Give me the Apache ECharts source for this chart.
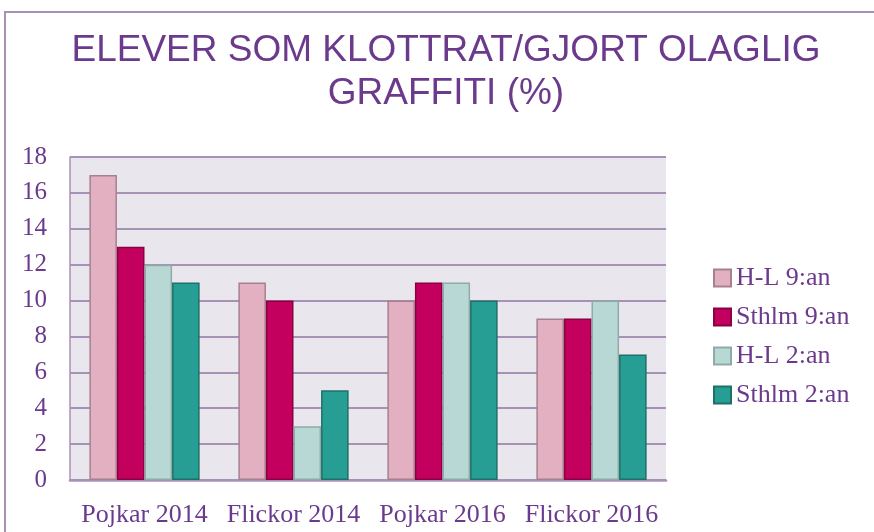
<!DOCTYPE html>
<html>
<head>
<meta charset="utf-8">
<script src="https://cdn.jsdelivr.net/npm/echarts@6/dist/echarts.min.js"></script>
<style>
  html, body { margin: 0; padding: 0; background: #fff; }
  #main { width: 874px; height: 532px; }
</style>
</head>
<body>
<div id="main"></div>
<script>
// data
const categories = ['Pojkar 2014', 'Flickor 2014', 'Pojkar 2016', 'Flickor 2016']
const seriesNames = ['H-L 9:an', 'Sthlm 9:an', 'H-L 2:an', 'Sthlm 2:an']
const hl9 = [17, 11, 10, 9]
const sthlm9 = [13, 10, 11, 9]
const hl2 = [12, 3, 11, 10]
const sthlm2 = [11, 5, 10, 7]

const fills = ['#e3b0c2', '#c4005f', '#b8d8d5', '#279e93']
const borders = ['#a6808f', '#8c0044', '#8faaa7', '#1d7169']
const purple = '#6b3a8c'
const gridColor = '#a792b6'
const serif = '"Liberation Serif", serif'

const chart = echarts.init(document.getElementById('main'))

const values = [hl9, sthlm9, hl2, sthlm2]
const series = values.map((v, i) => ({
    name: seriesNames[i],
    type: 'bar',
    data: v,
    barGap: '0%',
    barCategoryGap: '26%',
    itemStyle: {
        color: fills[i],
        borderColor: borders[i],
        borderWidth: 1.5
    }
}))

chart.setOption({
    animation: false,
    title: {
        text: 'ELEVER SOM KLOTTRAT/GJORT OLAGLIG\nGRAFFITI (%)',
        left: 441,
        textAlign: 'center',
        top: 24,
        textStyle: {
            fontFamily: '"Liberation Sans", Arial, sans-serif',
            fontWeight: 'normal',
            fontSize: 37,
            lineHeight: 43,
            color: purple
        }
    },
    legend: {
        orient: 'vertical',
        left: 708,
        top: 260,
        itemWidth: 17,
        itemHeight: 17,
        itemGap: 13,
        icon: 'rect',
        textStyle: {
            fontFamily: serif,
            fontSize: 26,
            color: purple,
            padding: [0, 0, 0, 0]
        }
    },
    grid: {
        left: 70,
        right: 208,
        top: 157,
        bottom: 52,
        show: true,
        backgroundColor: '#e9e6ed',
        borderWidth: 0
    },
    xAxis: {
        type: 'category',
        data: categories,
        axisTick: { show: false },
        axisLine: { lineStyle: { color: gridColor, width: 2.5 } },
        axisLabel: {
            interval: 0,
            margin: 22,
            fontFamily: serif,
            fontSize: 26,
            color: purple
        }
    },
    yAxis: {
        type: 'value',
        min: 0,
        max: 18,
        interval: 2,
        axisTick: { show: false },
        axisLine: { show: true, lineStyle: { color: gridColor, width: 1.5 } },
        splitLine: { lineStyle: { color: gridColor, width: 2 } },
        axisLabel: {
            margin: 23,
            fontFamily: serif,
            fontSize: 25,
            color: purple
        }
    },
    graphic: [
        {
            type: 'polyline',
            shape: { points: [[5, 532], [5, 12], [874, 12]] },
            style: { stroke: '#a792b6', lineWidth: 2, fill: null },
            silent: true
        }
    ],
    series: series
})
</script>
</body>
</html>
